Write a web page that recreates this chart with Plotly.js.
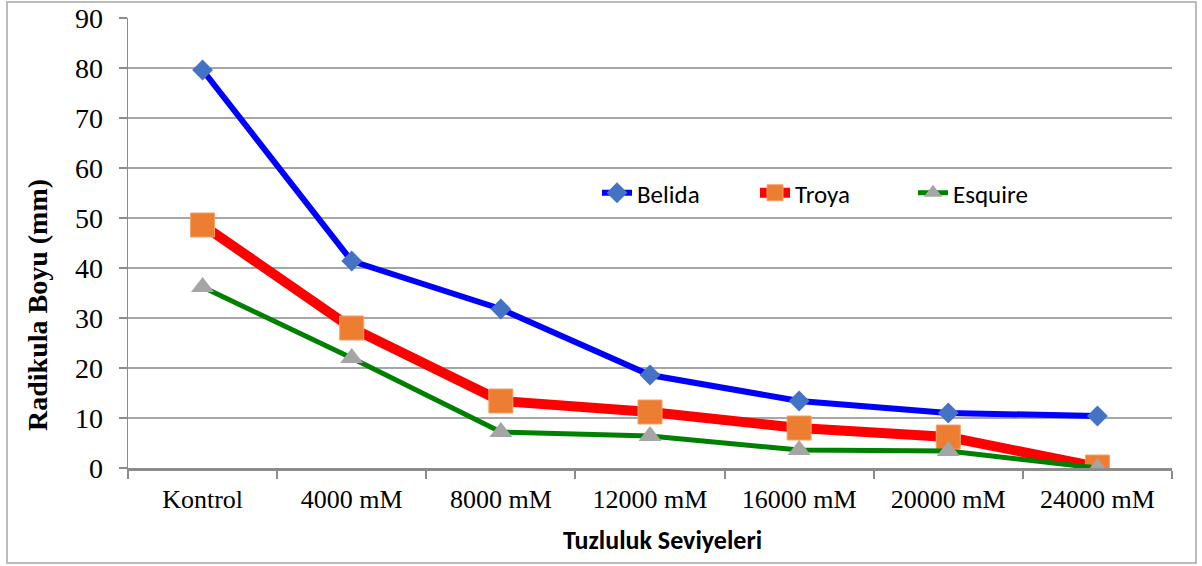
<!DOCTYPE html>
<html>
<head>
<meta charset="utf-8">
<script src="https://cdn.plot.ly/plotly-3.0.1.min.js"></script>
<style>html,body{margin:0;padding:0;background:#fff;}#chart{width:1202px;height:566px;}</style>
</head>
<body>
<div id="chart"></div>
<script>
const categories = ["Kontrol", "4000 mM", "8000 mM", "12000 mM", "16000 mM", "20000 mM", "24000 mM"];
const belida = [79.6, 41.4, 31.8, 18.6, 13.4, 11.0, 10.4];
const troya = [48.6, 28.0, 13.4, 11.2, 8.0, 6.2, 0.2];
const esquire = [36.2, 22.0, 7.2, 6.4, 3.6, 3.4, 0.0];
const yTicks = [0, 10, 20, 30, 40, 50, 60, 70, 80, 90];
const xTitle = "Tuzluluk Seviyeleri";
const yTitle = "Radikula Boyu (mm)";

const traces = [
  {x: categories, y: belida, name: "Belida", type: "scatter", mode: "lines+markers",
   line: {color: "#0000ff", width: 6}, marker: {symbol: "diamond", size: 16, color: "#4472c4"}},
  {x: categories, y: troya, name: "Troya", type: "scatter", mode: "lines+markers",
   line: {color: "#ff0000", width: 10}, marker: {symbol: "square", size: 24, color: "#ed7d31", line: {color: "#f4a06a", width: 1}}},
  {x: categories, y: esquire, name: "Esquire", type: "scatter", mode: "lines+markers",
   line: {color: "#008000", width: 5}, marker: {symbol: "triangle-up", size: 20, color: "#a5a5a5"}}
];

const L = 128, R = 30, T = 18, B = 98, W = 1202, H = 566;
const pw = W - L - R, ph = H - T - B;
const layout = {
  width: W, height: H,
  margin: {l: L, r: R, t: T, b: B, pad: 0},
  paper_bgcolor: "#ffffff", plot_bgcolor: "#ffffff",
  showlegend: true,
  legend: {orientation: "h", x: (597 - L) / pw, y: (T + ph - 193) / ph, xanchor: "left", yanchor: "middle",
           font: {family: "Carlito, 'Liberation Sans', Arial, sans-serif", size: 25, color: "#000"},
           bgcolor: "rgba(0,0,0,0)", entrywidth: 113, entrywidthmode: "pixels", tracegroupgap: 0},
  xaxis: {type: "category", categoryorder: "array", categoryarray: categories,
          range: [-0.5, 6.5], showgrid: false, showline: true, linecolor: "#8c8c8c", linewidth: 3,
          ticks: "outside", tickson: "boundaries", ticklen: 8, tickwidth: 2, tickcolor: "#8c8c8c",
          ticklabelstandoff: 6,
          tickfont: {family: "'Liberation Serif', 'Times New Roman', serif", size: 26, color: "#000"},
          zeroline: false, fixedrange: true},
  yaxis: {range: [0, 90], tickvals: yTicks, ticktext: yTicks.map(String), showgrid: true,
          gridcolor: "#a6a6a6", gridwidth: 1.5, showline: true, linecolor: "#8c8c8c", linewidth: 1.5,
          ticks: "outside", ticklen: 8, tickwidth: 1.5, tickcolor: "#8c8c8c", ticklabelstandoff: 10,
          tickfont: {family: "'Liberation Serif', 'Times New Roman', serif", size: 28, color: "#000"},
          zeroline: false, fixedrange: true},
  annotations: [
    {text: "<b>" + yTitle + "</b>", xref: "paper", yref: "paper",
     x: (37 - L) / pw, y: (T + ph - 305) / ph, xanchor: "center", yanchor: "middle",
     textangle: -90, showarrow: false,
     font: {family: "'Liberation Serif', 'Times New Roman', serif", size: 28, color: "#000"}},
    {text: "<b>" + xTitle + "</b>", xref: "paper", yref: "paper",
     x: (662 - L) / pw, y: (T + ph - 540) / ph, xanchor: "center", yanchor: "middle",
     showarrow: false,
     font: {family: "Carlito, 'Liberation Sans', Arial, sans-serif", size: 26, color: "#000"}}
  ],
  shapes: [{type: "rect", xref: "paper", yref: "paper",
            x0: (7 - L) / pw, x1: (1196 - L) / pw, y0: (T + ph - 563) / ph, y1: (T + ph - 2) / ph,
            line: {color: "#a6a6a6", width: 1.5}, fillcolor: "rgba(0,0,0,0)", layer: "below"}]
};
Plotly.newPlot("chart", traces, layout, {displayModeBar: false, staticPlot: true});
</script>
</body>
</html>
